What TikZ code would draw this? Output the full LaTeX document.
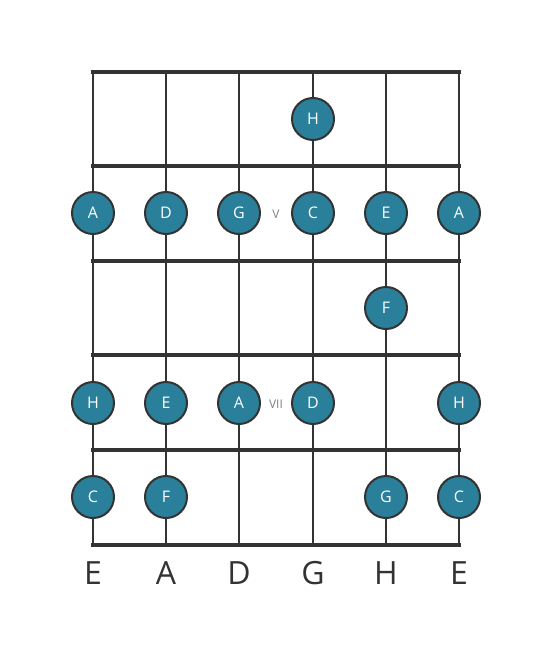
\documentclass[tikz,border=0pt]{standalone}
\usepackage{fontspec}
\setmainfont{Open Sans}
\definecolor{dot}{HTML}{2A7F9B}
\definecolor{ink}{HTML}{333333}
\begin{document}
\begin{tikzpicture}[x=1pt,y=-1pt,
  fret/.style={ink,line width=4pt},
  str/.style={ink,line width=2pt},
  note/.style={circle,fill=dot,draw=ink,line width=2pt,minimum size=42pt,inner sep=0pt,text=white,font=\fontsize{16}{16}\selectfont},
  posmark/.style={text=gray,font=\fontsize{12}{12}\selectfont},
  sname/.style={text=ink,font=\fontsize{32}{32}\selectfont}]
\useasboundingbox (0,0) rectangle (553,656);
\foreach \x/\n in {93/1,166/2,239/3,313/4,386/5,459/6}
  \draw[str] (\x,72) -- (\x,545);
\foreach \y in {72,166,261,355,450,545}
  \draw[fret] (91,\y) -- (461,\y);
% notes
\node[note] (n1) at (313,119) {H};
\node[note] (n2) at (93,213) {A};
\node[note] (n3) at (166,213) {D};
\node[note] (n4) at (239,213) {G};
\node[note] (n5) at (313,213) {C};
\node[note] (n6) at (386,213) {E};
\node[note] (n7) at (459,213) {A};
\node[note] (n8) at (386,308) {F};
\node[note] (n9) at (93,403) {H};
\node[note] (n10) at (166,403) {E};
\node[note] (n11) at (239,403) {A};
\node[note] (n12) at (313,403) {D};
\node[note] (n13) at (459,403) {H};
\node[note] (n14) at (93,497) {C};
\node[note] (n15) at (166,497) {F};
\node[note] (n16) at (386,497) {G};
\node[note] (n17) at (459,497) {C};
\node[posmark] (p5) at (276,214) {V};
\node[posmark] (p7) at (276,404) {VII};
% string names
\node[sname] (s1) at (93,573) {E};
\node[sname] (s2) at (166,573) {A};
\node[sname] (s3) at (239,573) {D};
\node[sname] (s4) at (313,573) {G};
\node[sname] (s5) at (386,573) {H};
\node[sname] (s6) at (459,573) {E};
\end{tikzpicture}
\end{document}
